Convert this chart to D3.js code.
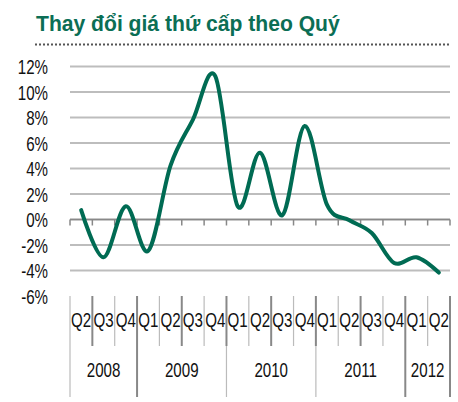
<!DOCTYPE html>
<html>
<head>
<meta charset="utf-8">
<script src="https://cdn.jsdelivr.net/npm/d3@7"></script>
<style>
  body { margin: 0; background: #fff; }
  svg { display: block; font-family: Arial, "Liberation Sans", sans-serif; }
</style>
</head>
<body>
<svg id="chart" width="458" height="402"></svg>
<script>
const title = "Thay đổi giá thứ cấp theo Quý";
const quarters = ["Q2","Q3","Q4","Q1","Q2","Q3","Q4","Q1","Q2","Q3","Q4","Q1","Q2","Q3","Q4","Q1","Q2"];
const years = ["2008","2009","2010","2011","2012"];
const quartersPerYear = [3, 4, 4, 4, 2];
const values = [0.7, -3.0, 1.0, -2.5, 4.2, 7.8, 11.2, 1.0, 5.2, 0.3, 7.3, 1.1, -0.1, -1.1, -3.45, -3.0, -4.2];
const yTicks = [-6, -4, -2, 0, 2, 4, 6, 8, 10, 12];

const GREEN = "#006b53";
const SQUEEZE = 0.72;

var svg = d3.select("#chart");
var ctx = {left: 70, right: 450, top: 66, bottom: 295.5};

var keys = quarters.map((q, i) => i);
var xScale = d3.scaleBand().domain(keys).range([ctx.left, ctx.right]).padding(0);
var yScale = d3.scaleLinear().domain([-6, 12]).range([ctx.bottom, ctx.top]);

// title + dotted rule
var t = svg.append("text")
   .attr("x", 36).attr("y", 31.5)
   .attr("fill", "#0b6e55")
   .attr("font-weight", "bold")
   .attr("font-size", 22)
   .text(title);
var tw = t.node().getComputedTextLength();
t.attr("transform", "translate(36,0) scale(" + (304 / tw) + ",1) translate(-36,0)");

svg.append("line")
   .attr("x1", 35).attr("x2", 450).attr("y1", 44.5).attr("y2", 44.5)
   .attr("stroke", "#555").attr("stroke-width", 2)
   .attr("stroke-dasharray", "2,2");

// gridlines + y labels
var yAxis = d3.axisLeft(yScale)
              .tickValues(yTicks)
              .tickSize(-(ctx.right - ctx.left))
              .tickFormat(d => d + "%");

svg.append("g")
   .attr("transform", "translate(" + ctx.left + ",0)")
   .call(yAxis)
   .call(g => g.select(".domain").remove())
   .call(g => g.selectAll(".tick line")
      .attr("stroke", d => d === -6 ? "none" : "#bdbdbd")
      .attr("stroke-width", 2))
   .call(g => g.selectAll(".tick text")
      .attr("x", 0).attr("dy", "0.36em")
      .attr("font-size", 21)
      .attr("font-family", "Arial, 'Liberation Sans', sans-serif")
      .attr("fill", "#111")
      .attr("text-anchor", "end")
      .attr("transform", "translate(-22,0) scale(" + SQUEEZE + ",1)"));

// zero axis with small ticks at category boundaries
var zeroY = Math.round(yScale(0)) + 0.5;
var bounds = d3.range(quarters.length + 1).map(i => ctx.left + i * xScale.bandwidth());
svg.append("line")
   .attr("x1", ctx.left).attr("x2", ctx.right)
   .attr("y1", zeroY).attr("y2", zeroY)
   .attr("stroke", "#888").attr("stroke-width", 1.5);
svg.append("g").selectAll("line")
   .data(bounds)
   .enter()
   .append("line")
   .attr("x1", d => d).attr("x2", d => d)
   .attr("y1", zeroY).attr("y2", zeroY + 6)
   .attr("stroke", "#888").attr("stroke-width", 1.5);

// category table at the bottom
var yearStarts = d3.cumsum([0].concat(quartersPerYear)).slice(0, -1);
var yearBounds = d3.cumsum([0].concat(quartersPerYear));
var tbl = svg.append("g");
tbl.selectAll("line.q")
   .data(bounds)
   .enter()
   .append("line")
   .attr("class", "q")
   .attr("x1", d => d).attr("x2", d => d)
   .attr("y1", 296).attr("y2", 346)
   .attr("stroke", (d, i) => i % 2 ? "#888" : "#bbb")
   .attr("stroke-width", (d, i) => i % 2 ? 2 : 1.2);
tbl.selectAll("line.y")
   .data(yearBounds)
   .enter()
   .append("line")
   .attr("class", "y")
   .attr("x1", d => bounds[d]).attr("x2", d => bounds[d])
   .attr("y1", 346).attr("y2", 397)
   .attr("stroke", (d, i) => (i === 0 || i === 2 || i === 3) ? "#bbb" : "#888")
   .attr("stroke-width", (d, i) => (i === 0 || i === 2 || i === 3) ? 1.2 : 2);

tbl.selectAll("text.q")
   .data(quarters)
   .enter()
   .append("text")
   .attr("class", "q")
   .attr("font-size", 21)
   .attr("fill", "#111")
   .attr("text-anchor", "middle")
   .attr("transform", (d, i) => "translate(" + (xScale(i) + xScale.bandwidth() / 2) + ",326.5) scale(" + SQUEEZE + ",1)")
   .text(d => d);

tbl.selectAll("text.y")
   .data(years)
   .enter()
   .append("text")
   .attr("class", "y")
   .attr("font-size", 21)
   .attr("fill", "#111")
   .attr("text-anchor", "middle")
   .attr("transform", (d, i) => {
      var x0 = bounds[yearStarts[i]], x1 = bounds[yearStarts[i] + quartersPerYear[i]];
      return "translate(" + ((x0 + x1) / 2) + ",377) scale(" + SQUEEZE + ",1)";
   })
   .text(d => d);

// the series
const linegen = d3.line()
                  .x((d, i) => xScale(i) + xScale.bandwidth() / 2)
                  .y(d => yScale(d))
                  .curve(d3.curveCardinal.tension(0));

svg.append("path")
   .datum(values)
   .attr("fill", "none")
   .attr("stroke", GREEN)
   .attr("stroke-width", 4)
   .attr("stroke-linecap", "round")
   .attr("stroke-linejoin", "round")
   .attr("d", linegen);
</script>
</body>
</html>
